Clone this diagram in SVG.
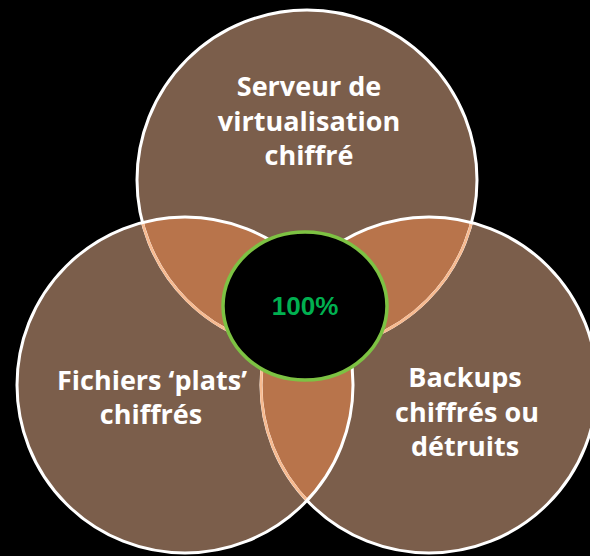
<svg xmlns="http://www.w3.org/2000/svg" width="590" height="556" viewBox="0 0 590 556">
  <style>
    .set { fill: #7B5E4B; }
    .lens { fill: #B8744B; }
    .edge { fill: none; stroke: #FFFFFF; stroke-width: 3; }
    .inner-edge { fill: none; stroke: #F7BA90; stroke-width: 2.6; }
    .label { font-family: "Open Sans", "DejaVu Sans", sans-serif; font-weight: bold; font-size: 27px; fill: #FFFFFF; text-anchor: middle; }
    .core { fill: #000000; stroke: #7DC243; stroke-width: 3.5; }
    .core-label { font-family: "Liberation Sans", Arial, sans-serif; font-weight: bold; font-size: 26px; fill: #00B050; text-anchor: middle; }
  </style>
  <defs>
    <circle id="c-top" cx="307" cy="180" r="170"/>
    <circle id="c-left" cx="185" cy="385" r="168"/>
    <circle id="c-right" cx="429" cy="385" r="168"/>
    <clipPath id="in-top"><use href="#c-top"/></clipPath>
    <clipPath id="in-left"><use href="#c-left"/></clipPath>
    <clipPath id="in-right"><use href="#c-right"/></clipPath>
  </defs>

  <rect width="590" height="556" fill="#000000"/>

  <!-- the three sets -->
  <g id="node-serveur">
    <use href="#c-top" class="set"/>
    <text class="label" x="309" y="96">Serveur de</text>
    <text class="label" x="309" y="131">virtualisation</text>
    <text class="label" x="309" y="165">chiffré</text>
  </g>
  <g id="node-backups">
    <use href="#c-right" class="set"/>
    <text class="label" x="465" y="387">Backups</text>
    <text class="label" x="467" y="422">chiffrés ou</text>
    <text class="label" x="465" y="456">détruits</text>
  </g>
  <g id="node-fichiers">
    <use href="#c-left" class="set"/>
    <text class="label" x="152" y="390">Fichiers ‘plats’</text>
    <text class="label" x="151" y="424">chiffrés</text>
  </g>

  <!-- pairwise intersections -->
  <g id="overlaps">
    <use href="#c-left" class="lens" clip-path="url(#in-top)"/>
    <use href="#c-right" class="lens" clip-path="url(#in-top)"/>
    <use href="#c-right" class="lens" clip-path="url(#in-left)"/>
  </g>

  <!-- outlines: white outside, peach where covered by a later set -->
  <g id="connectors">
    <use href="#c-top" class="edge"/>
    <use href="#c-top" class="inner-edge" clip-path="url(#in-right)"/>
    <use href="#c-right" class="edge"/>
    <use href="#c-top" class="inner-edge" clip-path="url(#in-left)"/>
    <use href="#c-right" class="inner-edge" clip-path="url(#in-left)"/>
    <use href="#c-left" class="edge"/>
  </g>

  <!-- common core -->
  <g id="node-core">
    <ellipse class="core" cx="305" cy="306" rx="82" ry="74"/>
    <text class="core-label" x="305" y="315">100%</text>
  </g>
</svg>
